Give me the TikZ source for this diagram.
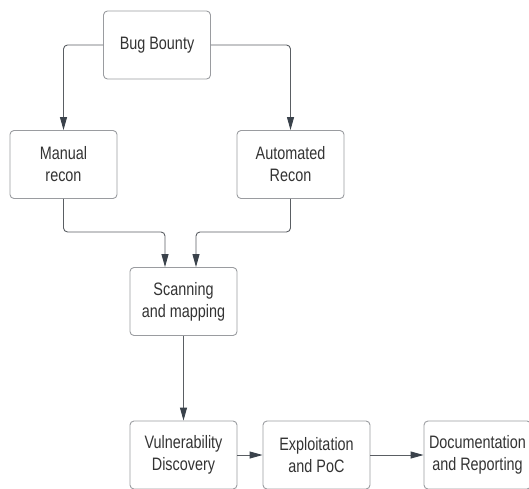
\documentclass[tikz,border=0pt]{standalone}
\usepackage{fontspec}
\setmainfont{Liberation Sans}[FakeStretch=0.8]
\usetikzlibrary{arrows.meta}
\definecolor{boxline}{HTML}{9A9CA0}
\definecolor{conn}{HTML}{5A5E63}
\definecolor{tip}{HTML}{3A424B}
\definecolor{txt}{HTML}{333333}
\begin{document}
\begin{tikzpicture}[x=1pt,y=-1pt,
  stepbox/.style={draw=boxline, line width=0.9pt, rounded corners=4pt, minimum width=107pt, minimum height=68pt, inner sep=0pt, align=center, text=txt, font=\fontsize{18}{22}\selectfont},
  conn/.style={draw=conn, line width=0.9pt, rounded corners=4pt, -{Triangle[length=13pt,width=7pt,color=tip]}}]
\useasboundingbox (0,0) rectangle (529,488);
\clip (0,0) rectangle (529,488);
\node[stepbox] (bug) at (157,45) {Bug Bounty};
\node[stepbox] (manual) at (63.5,164.5) {Manual\\recon};
\node[stepbox] (auto) at (290.5,164.5) {Automated\\Recon};
\node[stepbox] (scan) at (183.5,301.5) {Scanning\\and mapping};
\node[stepbox] (vuln) at (183.5,455) {Vulnerability\\Discovery};
\node[stepbox] (expl) at (316.5,455) {Exploitation\\and PoC};
\node[stepbox] (doc) at (477.5,455) {Documentation\\and Reporting};
\draw[conn] (bug.west) -| (manual.north);
\draw[conn] (bug.east) -| (auto.north);
\draw[conn] (manual.south) -- ++(0,33) -| ([xshift=-18.5pt]scan.north);
\draw[conn] (auto.south) -- ++(0,33) -| ([xshift=12.5pt]scan.north);
\draw[conn] (scan.south) -- (vuln.north);
\draw[conn] (vuln.east) -- (expl.west);
\draw[conn] (expl.east) -- (doc.west);
\end{tikzpicture}
\end{document}
